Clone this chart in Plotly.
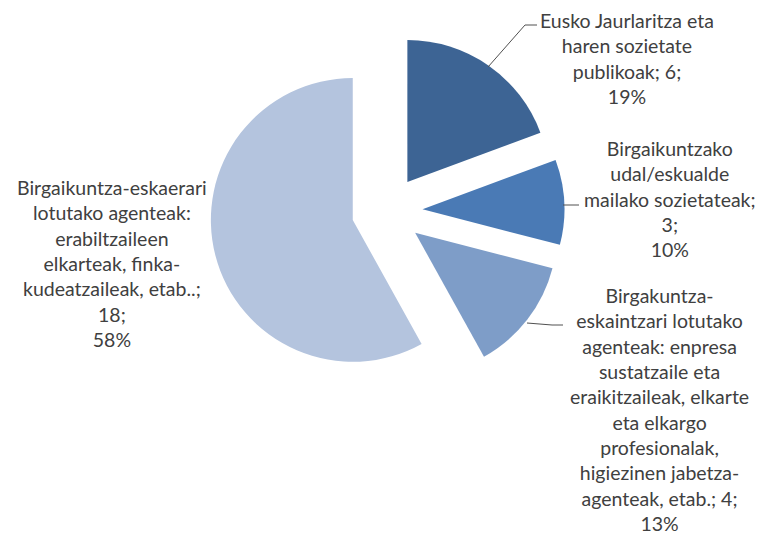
import plotly.graph_objects as go

categories = [
    "Eusko Jaurlaritza eta<br>haren sozietate<br>publikoak",
    "Birgaikuntzako<br>udal/eskualde<br>mailako sozietateak",
    "Birgakuntza-<br>eskaintzari lotutako<br>agenteak: enpresa<br>sustatzaile eta<br>eraikitzaileak, elkarte<br>eta elkargo<br>profesionalak,<br>higiezinen jabetza-<br>agenteak, etab.",
    "Birgaikuntza-eskaerari<br>lotutako agenteak:<br>erabiltzaileen<br>elkarteak, finka-<br>kudeatzaileak, etab..",
]
values = [6, 3, 4, 18]
value_sep = ["; ", ";<br>", "; ", ";<br>"]
colors = ["#3D6494", "#4A7AB5", "#7E9DC8", "#B4C4DE"]

# label block centres (pixels) and leader lines (pixels)
label_pos = [(627, 59), (670, 199), (659, 409), (112, 263)]
leaders = [
    [(488, 67), (525, 25), (537, 25)],
    [(563, 205), (579, 205)],
    [(527, 323), (552, 325), (563, 325)],
]

W, H = 762, 535
total = sum(values)

fig = go.Figure()
fig.add_trace(go.Pie(
    labels=[c.replace("<br>", " ") for c in categories],
    values=values,
    sort=False,
    direction="clockwise",
    rotation=0,
    pull=[0.25] * 4,
    marker=dict(colors=colors, line=dict(width=0)),
    textinfo="none",
    hoverinfo="label+value+percent",
    showlegend=False,
    domain=dict(x=[0.275, 0.741], y=[0.274, 0.937]),
))

for cat, v, sep, (px, py) in zip(categories, values, value_sep, label_pos):
    pct = round(v / total * 100)
    fig.add_annotation(
        text=f"{cat}{sep}{v};<br>{pct}%",
        x=px / W, y=1 - py / H, xref="paper", yref="paper",
        xanchor="center", yanchor="middle", align="center",
        showarrow=False,
        font=dict(family="Lato", size=19.5, color="#404040"),
    )

for pts in leaders:
    path = "M " + " L ".join(f"{x / W} {1 - y / H}" for x, y in pts)
    fig.add_shape(type="path", path=path, xref="paper", yref="paper",
                  line=dict(color="#505050", width=1))

fig.update_layout(
    width=W, height=H,
    margin=dict(l=0, r=0, t=0, b=0),
    paper_bgcolor="white", plot_bgcolor="white",
)

fig.write_html("out.html", config={"displayModeBar": False},
               post_script="document.body.style.margin='0';")
